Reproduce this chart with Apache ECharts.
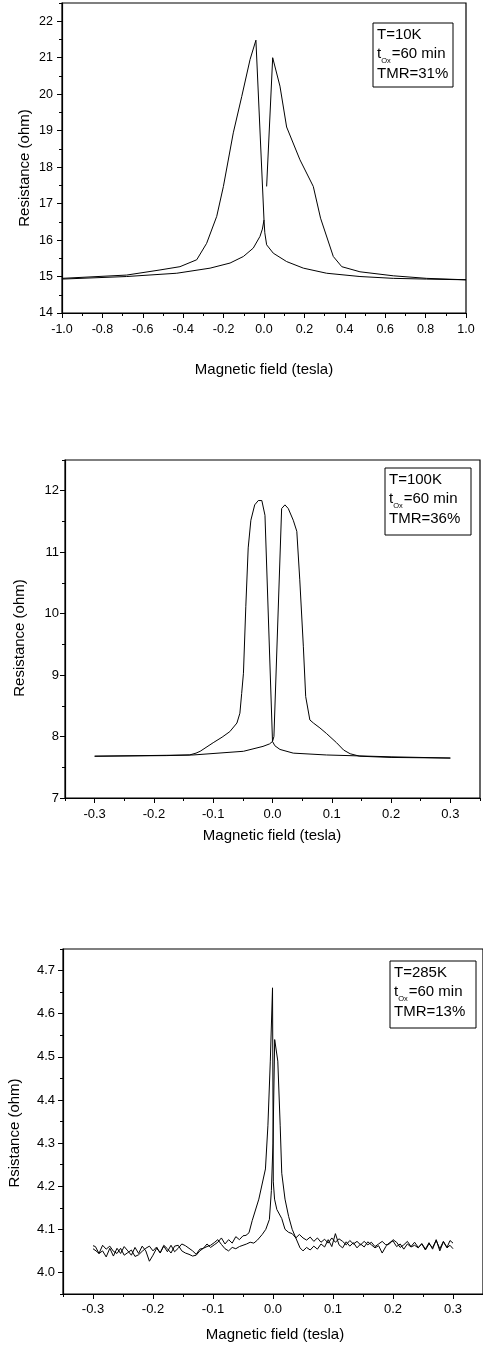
<!DOCTYPE html>
<html>
<head>
<meta charset="utf-8">
<script src="https://cdn.jsdelivr.net/npm/echarts@6.0.0/dist/echarts.min.js"></script>
<style>
  html, body { margin: 0; padding: 0; background: #fff; }
  #chart { width: 483px; height: 1348px; }
</style>
</head>
<body>
<div id="chart"></div>
<script>
// ---- panel 1: T=10K, field -1..1 T ----
var p1XTicks = [-1, -0.8, -0.6, -0.4, -0.2, 0, 0.2, 0.4, 0.6, 0.8, 1];
var p1YTicks = [14, 15, 16, 17, 18, 19, 20, 21, 22];
// sweep from +1 down to -1
var p1Down = [[1.0,14.91],[0.805,14.93],[0.64,14.95],[0.475,15.0],[0.31,15.09],[0.195,15.23],[0.112,15.41],
  [0.046,15.64],[0.013,15.87],[0.004,16.2],[0.0,16.55],[-0.04,21.48],[-0.069,20.95],[-0.11,19.94],[-0.152,18.94],
  [-0.201,17.47],[-0.234,16.65],[-0.284,15.91],[-0.333,15.46],[-0.416,15.27],[-0.515,15.18],[-0.68,15.04],[-1.0,14.95]];
// sweep from -1 up to +1 (the trace breaks just after zero)
var p1UpLow = [[-1.0,14.93],[-0.68,15.0],[-0.432,15.09],[-0.267,15.23],[-0.168,15.37],[-0.102,15.55],[-0.053,15.78],
  [-0.02,16.1],[-0.008,16.3],[0.0,16.55]];
var p1UpHigh = [[0.013,17.47],[0.043,21.0],[0.079,20.22],[0.112,19.1],[0.178,18.2],[0.244,17.47],[0.28,16.6],
  [0.343,15.55],[0.385,15.27],[0.475,15.13],[0.64,15.02],[0.805,14.95],[1.0,14.91]];

// ---- panel 2: T=100K, field -0.3..0.3 T ----
var p2XTicks = [-0.3, -0.2, -0.1, 0, 0.1, 0.2, 0.3];
var p2YTicks = [7, 8, 9, 10, 11, 12];
var p2Down = [[0.3,7.65],[0.2,7.67],[0.091,7.70],[0.035,7.73],[0.0126,7.79],[0.004,7.85],[0.0,7.92],
  [-0.0127,11.6],[-0.018,11.84],[-0.024,11.84],[-0.03,11.77],[-0.0365,11.52],[-0.041,11.07],[-0.045,10.12],
  [-0.049,9.03],[-0.052,8.7],[-0.055,8.38],[-0.06,8.22],[-0.072,8.08],[-0.085,7.99],[-0.1,7.9],[-0.122,7.76],
  [-0.129,7.73],[-0.14,7.70],[-0.179,7.69],[-0.3,7.68]];
var p2Up = [[-0.3,7.68],[-0.134,7.70],[-0.049,7.76],[-0.016,7.84],[-0.005,7.88],[0.0,7.92],[0.0024,8.0],
  [0.0154,11.71],[0.021,11.77],[0.0266,11.71],[0.035,11.52],[0.041,11.34],[0.046,10.55],[0.052,9.47],
  [0.056,8.65],[0.063,8.27],[0.069,8.22],[0.08,8.14],[0.091,8.05],[0.108,7.9],[0.12,7.78],[0.131,7.72],
  [0.147,7.68],[0.2,7.66],[0.3,7.65]];

// ---- panel 3: T=285K, field -0.3..0.3 T ----
var p3XTicks = [-0.3, -0.2, -0.1, 0, 0.1, 0.2, 0.3];
var p3YTicks = [4.0, 4.1, 4.2, 4.3, 4.4, 4.5, 4.6, 4.7];
var p3Down = [[0.3,4.068],[0.295,4.074],[0.29,4.058],[0.284,4.072],[0.278,4.055],[0.272,4.074],[0.266,4.058],
  [0.26,4.066],[0.254,4.052],[0.248,4.066],[0.242,4.058],[0.236,4.07],[0.23,4.06],[0.224,4.072],[0.218,4.064],
  [0.212,4.058],[0.206,4.07],[0.2,4.076],[0.194,4.066],[0.188,4.064],[0.182,4.072],[0.176,4.066],[0.17,4.06],
  [0.164,4.07],[0.158,4.064],[0.152,4.072],[0.146,4.064],[0.14,4.072],[0.134,4.066],[0.128,4.074],[0.122,4.064],
  [0.116,4.072],[0.11,4.078],[0.104,4.07],[0.098,4.08],[0.092,4.068],[0.086,4.077],[0.08,4.07],[0.074,4.08],
  [0.068,4.072],[0.062,4.082],[0.056,4.075],[0.05,4.08],[0.044,4.088],[0.038,4.08],[0.032,4.09],[0.026,4.093],
  [0.02,4.10],[0.0146,4.125],[0.0064,4.146],[0.0026,4.17],[0.0005,4.21],[-0.0008,4.66],[-0.0045,4.49],
  [-0.0085,4.34],[-0.0126,4.24],[-0.0236,4.17],[-0.0347,4.12],[-0.04,4.092],[-0.045,4.086],[-0.05,4.085],
  [-0.056,4.076],[-0.062,4.083],[-0.068,4.068],[-0.074,4.076],[-0.08,4.066],[-0.086,4.08],[-0.092,4.07],
  [-0.098,4.064],[-0.104,4.058],[-0.11,4.066],[-0.116,4.056],[-0.122,4.054],[-0.128,4.042],[-0.134,4.05],
  [-0.14,4.056],[-0.146,4.062],[-0.152,4.066],[-0.158,4.056],[-0.164,4.048],[-0.17,4.063],[-0.176,4.048],
  [-0.182,4.061],[-0.188,4.046],[-0.194,4.056],[-0.2,4.04],[-0.206,4.026],[-0.212,4.05],[-0.218,4.061],
  [-0.224,4.044],[-0.23,4.058],[-0.236,4.04],[-0.242,4.05],[-0.248,4.06],[-0.254,4.044],[-0.26,4.056],
  [-0.266,4.038],[-0.272,4.056],[-0.278,4.036],[-0.284,4.05],[-0.29,4.044],[-0.296,4.06],[-0.3,4.062]];
var p3Up = [[-0.3,4.055],[-0.295,4.05],[-0.29,4.044],[-0.284,4.063],[-0.278,4.054],[-0.272,4.061],[-0.266,4.049],
  [-0.26,4.044],[-0.254,4.056],[-0.248,4.04],[-0.242,4.046],[-0.236,4.052],[-0.23,4.037],[-0.224,4.041],
  [-0.218,4.049],[-0.212,4.056],[-0.206,4.061],[-0.2,4.05],[-0.194,4.059],[-0.188,4.045],[-0.182,4.063],
  [-0.176,4.055],[-0.17,4.045],[-0.164,4.061],[-0.158,4.063],[-0.152,4.05],[-0.146,4.045],[-0.14,4.042],
  [-0.134,4.038],[-0.128,4.04],[-0.122,4.05],[-0.116,4.056],[-0.11,4.06],[-0.104,4.063],[-0.098,4.069],
  [-0.092,4.076],[-0.086,4.065],[-0.08,4.055],[-0.074,4.05],[-0.068,4.058],[-0.062,4.055],[-0.056,4.06],
  [-0.05,4.063],[-0.044,4.066],[-0.038,4.07],[-0.032,4.068],[-0.026,4.075],[-0.018,4.088],[-0.012,4.1],
  [-0.006,4.123],[-0.0027,4.19],[0.0,4.30],[0.0028,4.54],[0.008,4.49],[0.012,4.34],[0.0146,4.23],[0.02,4.17],
  [0.026,4.13],[0.032,4.10],[0.038,4.08],[0.045,4.057],[0.05,4.05],[0.056,4.058],[0.062,4.052],[0.068,4.061],
  [0.074,4.054],[0.08,4.066],[0.086,4.059],[0.092,4.076],[0.098,4.06],[0.104,4.09],[0.11,4.064],[0.116,4.057],
  [0.122,4.071],[0.128,4.061],[0.134,4.069],[0.14,4.057],[0.146,4.066],[0.152,4.059],[0.158,4.071],[0.164,4.064],
  [0.17,4.057],[0.176,4.062],[0.182,4.045],[0.188,4.06],[0.194,4.069],[0.2,4.073],[0.206,4.06],[0.212,4.066],
  [0.218,4.054],[0.224,4.066],[0.23,4.059],[0.236,4.063],[0.242,4.057],[0.248,4.067],[0.254,4.054],[0.26,4.069],
  [0.266,4.054],[0.272,4.076],[0.278,4.05],[0.284,4.071],[0.29,4.057],[0.295,4.063],[0.3,4.055]];

var legendLines = [
  ['T=10K', '60 min', 'TMR=31%'],
  ['T=100K', '60 min', 'TMR=36%'],
  ['T=285K', '60 min', 'TMR=13%']
];
var yTitles = ['Resistance (ohm)', 'Resistance (ohm)', 'Rsistance (ohm)'];
var xTitle = 'Magnetic field (tesla)';

var FONT = '"Liberation Sans", Arial, Helvetica, sans-serif';

var panels = [
  { grid: {left: 62, top: 3, width: 404, height: 310},
    x: {min: -1, max: 1, minor: 0.1, ticks: p1XTicks, dec: 1, margin: 10},
    y: {min: 14, max: 22.5, minor: 0.5, ticks: p1YTicks, dec: 0, margin: 9},
    fs: 12.5, lines: [p1Down, p1UpLow, p1UpHigh],
    yTitle: [25, 168], xTitle: [264, 370], box: [373, 23, 80, 64] },
  { grid: {left: 65, top: 460, width: 415, height: 338},
    x: {min: -0.35, max: 0.35, minor: 0.05, ticks: p2XTicks, dec: 1, margin: 10},
    y: {min: 7, max: 12.5, minor: 0.5, ticks: p2YTicks, dec: 0, margin: 6},
    fs: 13, lines: [p2Down, p2Up],
    yTitle: [20, 638], xTitle: [272, 836], box: [385, 468, 86, 67] },
  { grid: {left: 63, top: 949, width: 423, height: 345},
    x: {min: -0.35, max: 0.35, minor: 0.05, ticks: p3XTicks, dec: 1, margin: 9},
    y: {min: 3.95, max: 4.75, minor: 0.05, ticks: p3YTicks, dec: 1, margin: 8},
    fs: 13, lines: [p3Down, p3Up],
    yTitle: [15, 1133], xTitle: [275, 1335], box: [390, 961, 86, 67] }
];

var grids = [], xAxes = [], yAxes = [], series = [], graphics = [];

function axisPair(list, dim, p, gi, pos) {
  var a = p[dim];
  // major axis: labels + long ticks
  list.push({
    type: 'value', gridIndex: gi, position: pos, min: a.min, max: a.max,
    axisLine: {show: true, onZero: false, lineStyle: {color: '#000', width: 1.2}},
    axisTick: {show: true, length: 5, customValues: a.ticks, lineStyle: {color: '#000', width: 1}},
    axisLabel: {show: true, customValues: a.ticks, margin: a.margin, color: '#000',
      fontFamily: FONT, fontSize: p.fs,
      formatter: function (v) { return (Math.abs(v) < 1e-9 ? 0 : v).toFixed(a.dec); }},
    splitLine: {show: false}
  });
  // minor axis: short ticks only
  list.push({
    type: 'value', gridIndex: gi, position: pos, min: a.min, max: a.max, interval: a.minor,
    axisLine: {show: false, onZero: false}, axisLabel: {show: false},
    axisTick: {show: true, length: 3, lineStyle: {color: '#000', width: 1}},
    splitLine: {show: false}
  });
}

panels.forEach(function (p, i) {
  grids.push(Object.assign({show: true, borderColor: '#000', borderWidth: 1.2,
    backgroundColor: 'transparent', containLabel: false}, p.grid));
  axisPair(xAxes, 'x', p, i, 'bottom');
  axisPair(yAxes, 'y', p, i, 'left');
  p.lines.forEach(function (d) {
    series.push({
      type: 'line', xAxisIndex: i * 2, yAxisIndex: i * 2, data: d,
      showSymbol: false, symbol: 'none', smooth: false, silent: true,
      lineStyle: {color: '#000', width: 1}
    });
  });

  graphics.push({type: 'text', x: p.yTitle[0], y: p.yTitle[1], rotation: Math.PI / 2,
    style: {text: yTitles[i], font: '15px ' + FONT, fill: '#000', align: 'center', verticalAlign: 'middle'}});
  graphics.push({type: 'text', x: p.xTitle[0], y: p.xTitle[1],
    style: {text: xTitle, font: '15px ' + FONT, fill: '#000', align: 'center', verticalAlign: 'middle'}});

  var b = p.box;
  graphics.push({type: 'rect', shape: {x: b[0], y: b[1], width: b[2], height: b[3]},
    style: {fill: '#fff', stroke: '#000', lineWidth: 1}});
  var tx = b[0] + 4, ty = b[1] + 12;
  graphics.push({type: 'text', x: tx, y: ty,
    style: {text: legendLines[i][0], font: '15px ' + FONT, fill: '#000', align: 'left', verticalAlign: 'middle'}});
  graphics.push({type: 'text', x: tx, y: ty + 19,
    style: {text: '{n|t}{s|Ox}{n|=' + legendLines[i][1] + '}', align: 'left', verticalAlign: 'middle',
      rich: {
        n: {fontSize: 15, fontFamily: FONT, fill: '#000', lineHeight: 22},
        s: {fontSize: 7.5, fontFamily: FONT, fill: '#000', lineHeight: 22, padding: [14, 1, 0, 0]}
      }}});
  graphics.push({type: 'text', x: tx, y: ty + 39,
    style: {text: legendLines[i][2], font: '15px ' + FONT, fill: '#000', align: 'left', verticalAlign: 'middle'}});
});

var chart = echarts.init(document.getElementById('chart'), null, {renderer: 'canvas'});
chart.setOption({
  animation: false,
  backgroundColor: '#fff',
  grid: grids,
  xAxis: xAxes,
  yAxis: yAxes,
  series: series,
  graphic: graphics
});
</script>
</body>
</html>
